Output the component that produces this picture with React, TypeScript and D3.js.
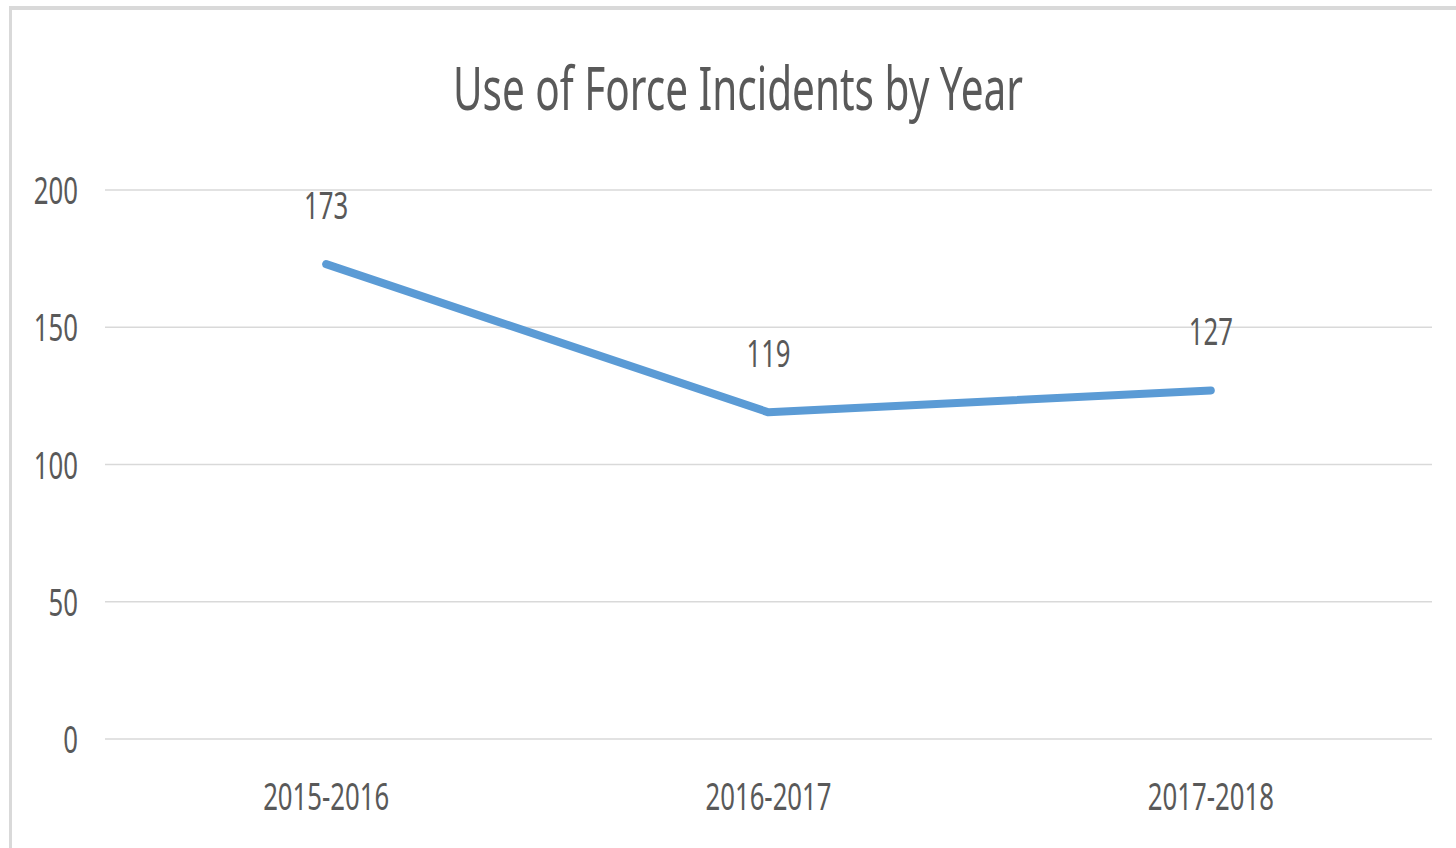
import React from "react";
import * as d3 from "d3";

// chart data
const categories = ["2015-2016", "2016-2017", "2017-2018"];
const incidents = [173, 119, 127];
const yTicks = [0, 50, 100, 150, 200];
const title = "Use of Force Incidents by Year";

const W = 1456;
const H = 848;
const margin = { left: 105, right: 24, top: 190, bottom: 109 };
const FONT = "'Noto Sans', 'Open Sans', sans-serif";
const TEXT = "#595959";
const SX = 0.66; // condense glyphs horizontally

const App: React.FC = () => {
  const x = d3
    .scaleBand<string>()
    .domain(categories)
    .range([margin.left, W - margin.right]);

  const y = d3
    .scaleLinear()
    .domain([0, 200])
    .range([H - margin.bottom, margin.top]);

  const cx = (c: string) => (x(c) ?? 0) + x.bandwidth() / 2;

  const line = d3
    .line<number>()
    .x((_, i) => cx(categories[i]))
    .y((d) => y(d));

  return (
    <svg
      width={W}
      height={H}
      style={{ position: "absolute", left: 0, top: 0, background: "#fff" }}
      fontFamily={FONT}
    >
      <rect x={0} y={0} width={W} height={H} fill="#fff" />
      {/* chart frame */}
      <line x1={10.5} x2={10.5} y1={6} y2={H} stroke="#d9d9d9" strokeWidth={3} />
      <line x1={9} x2={W} y1={8} y2={8} stroke="#d9d9d9" strokeWidth={4} />

      <text
        x={738}
        y={110}
        textAnchor="middle"
        fontSize={61}
        fill={TEXT}
        textLength={570}
        lengthAdjust="spacingAndGlyphs"
      >
        {title}
      </text>

      {/* gridlines + y labels */}
      {yTicks.map((t) => (
        <g key={t}>
          <line
            x1={margin.left}
            x2={W - margin.right}
            y1={y(t)}
            y2={y(t)}
            stroke="#d9d9d9"
            strokeWidth={1.5}
          />
          <text
            transform={`translate(78,${y(t) + 14}) scale(${SX},1)`}
            textAnchor="end"
            fontSize={39}
            fill={TEXT}
          >
            {t}
          </text>
        </g>
      ))}

      {/* x labels */}
      {categories.map((c) => (
        <text
          key={c}
          transform={`translate(${cx(c)},${H - 38}) scale(${SX},1)`}
          textAnchor="middle"
          fontSize={39}
          fill={TEXT}
        >
          {c}
        </text>
      ))}

      <path
        d={line(incidents) ?? ""}
        fill="none"
        stroke="#5b9bd5"
        strokeWidth={8}
        strokeLinecap="round"
        strokeLinejoin="round"
      />

      {/* data labels */}
      {incidents.map((v, i) => (
        <text
          key={i}
          transform={`translate(${cx(categories[i])},${y(v) - 45}) scale(${SX},1)`}
          textAnchor="middle"
          fontSize={39}
          fill={TEXT}
        >
          {v}
        </text>
      ))}
    </svg>
  );
};

export default App;
